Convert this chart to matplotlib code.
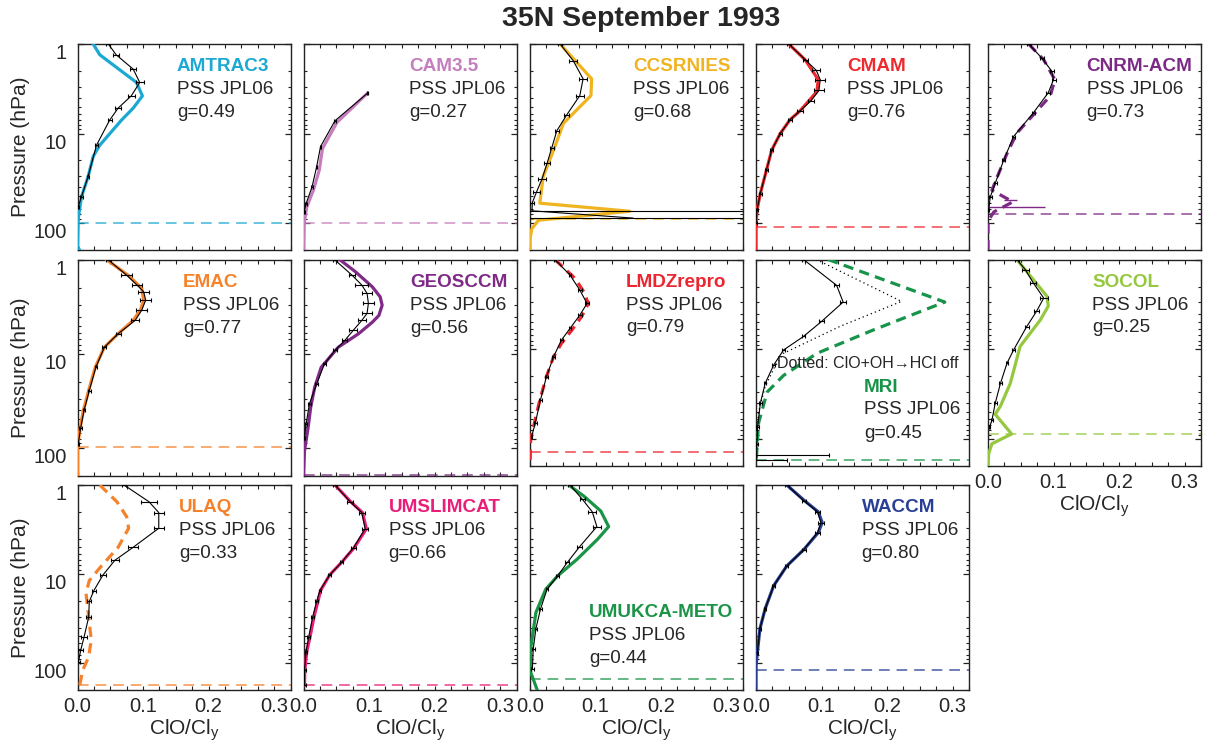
import numpy as np
import matplotlib.pyplot as plt
from matplotlib.ticker import FixedLocator, NullFormatter

plt.rcParams['font.family'] = ['Liberation Sans', 'DejaVu Sans']
plt.rcParams['mathtext.default'] = 'regular'

# ---- data (pressure in hPa, ClO/Cly ratio) ----
amtrac_obs_p = [1.0, 1.32, 1.91, 2.69, 3.8, 5.2, 7.1, 13.5, 30.6, 51, 66]
amtrac_obs_x = [0.047, 0.059, 0.085, 0.095, 0.082, 0.062, 0.049, 0.029, 0.016, 0.006, 0.001]
amtrac_obs_e = [0.003, 0.005, 0.005, 0.006, 0.005, 0.005, 0.003, 0.002, 0.002, 0.002, 0.001]
amtrac_mod_p = [1.0, 1.32, 2.69, 3.8, 5.2, 7.1, 13.5, 18, 30.6, 51, 90, 180, 200]
amtrac_mod_x = [0.024, 0.034, 0.090, 0.099, 0.085, 0.067, 0.034, 0.024, 0.016, 0.006, 0.001, 0.0, 0.003]

cam_obs_p = [3.55, 7.2, 14, 23.6, 39.5, 60.5, 75]
cam_obs_x = [0.0975, 0.048, 0.026, 0.020, 0.013, 0.004, 0.001]
cam_obs_e = [0.001, 0.001, 0.001, 0.001, 0.001, 0.001, 0.001]
cam_mod_p = [3.55, 7.5, 14.7, 25.7, 43, 66, 100, 200]
cam_mod_x = [0.0975, 0.051, 0.029, 0.024, 0.015, 0.005, 0.001, 0.0]

ccsr_obs_p = [1.0, 1.54, 2.45, 3.77, 6.2, 9.3, 14.6, 21.6, 32.6, 44.9, 59, 73, 88]
ccsr_obs_x = [0.046, 0.066, 0.081, 0.076, 0.056, 0.041, 0.033, 0.026, 0.018, 0.010, 0.0036, 0.003, 0.157]
ccsr_obs_e = [0.003, 0.006, 0.006, 0.006, 0.004, 0.003, 0.003, 0.004, 0.006, 0.006, 0.003, 0.5, 0.5]
ccsr_mod_p = [1.0, 2.45, 3.77, 7.7, 15.3, 30.5, 60, 73.8, 93, 115, 150, 200]
ccsr_mod_x = [0.046, 0.094, 0.093, 0.051, 0.036, 0.020, 0.015, 0.152, 0.013, 0.003, 0.0, 0.0]

cmam_obs_p = [1.0, 1.5, 1.97, 2.5, 3.3, 4.3, 5.6, 7.0, 10, 15.3, 25.6, 46.8, 72, 100]
cmam_obs_x = [0.050, 0.075, 0.092, 0.098, 0.096, 0.084, 0.067, 0.052, 0.037, 0.024, 0.016, 0.0066, 0.0015, 0.0]
cmam_obs_e = [0.003, 0.004, 0.006, 0.008, 0.008, 0.005, 0.004, 0.003, 0.002, 0.002, 0.002, 0.002, 0.001, 0.001]
cmam_mod_p = [1.0, 1.5, 2.5, 3.4, 5.6, 7.0, 10, 15.3, 25.6, 46.8, 72, 110, 200]
cmam_mod_x = [0.050, 0.075, 0.095, 0.093, 0.067, 0.052, 0.037, 0.024, 0.016, 0.0066, 0.0015, 0.0, 0.0]

cnrm_obs_p = [1.0, 1.43, 2.0, 2.5, 3.5, 5.9, 10.8, 19.8, 36, 51, 72]
cnrm_obs_x = [0.062, 0.082, 0.097, 0.100, 0.092, 0.069, 0.039, 0.024, 0.011, 0.0035, 0.001]
cnrm_obs_e = [0.003, 0.003, 0.003, 0.003, 0.003, 0.002, 0.002, 0.002, 0.002, 0.002, 0.001]
cnrm_mod_p = [1.0, 1.5, 2.5, 3.8, 6.2, 9.9, 16.7, 30.6, 43, 58, 75, 95, 200]
cnrm_mod_x = [0.062, 0.085, 0.102, 0.095, 0.069, 0.044, 0.029, 0.014, 0.006, 0.038, 0.009, 0.0, 0.0]
cnrm_bar_p = [55, 67]
cnrm_bar_lo = [0.024, 0.0]
cnrm_bar_hi = [0.044, 0.087]

emac_obs_p = [1.0, 1.45, 1.85, 2.18, 2.68, 3.43, 4.4, 6.1, 8.5, 13.9, 24.6, 40, 61, 91]
emac_obs_x = [0.047, 0.075, 0.091, 0.101, 0.104, 0.098, 0.088, 0.062, 0.041, 0.028, 0.018, 0.010, 0.005, 0.001]
emac_obs_e = [0.004, 0.008, 0.008, 0.008, 0.008, 0.008, 0.006, 0.004, 0.003, 0.002, 0.002, 0.002, 0.002, 0.001]
emac_mod_p = [1.0, 1.45, 2.0, 2.7, 3.4, 4.4, 6.1, 8.5, 13.9, 24.6, 40, 61, 100, 200]
emac_mod_x = [0.045, 0.077, 0.098, 0.101, 0.096, 0.085, 0.062, 0.041, 0.027, 0.017, 0.009, 0.004, 0.0, 0.0]

geos_obs_p = [1.0, 1.45, 1.85, 2.27, 2.9, 3.7, 4.4, 5.6, 7.2, 9.2, 12.8, 21, 34, 56, 78]
geos_obs_x = [0.048, 0.074, 0.089, 0.097, 0.099, 0.097, 0.089, 0.076, 0.063, 0.048, 0.032, 0.020, 0.009, 0.004, 0.0015]
geos_obs_e = [0.003, 0.004, 0.010, 0.008, 0.008, 0.008, 0.006, 0.006, 0.004, 0.003, 0.003, 0.002, 0.002, 0.002, 0.001]
geos_mod_p = [1.0, 1.33, 1.93, 2.47, 3.03, 3.9, 4.6, 6.1, 8.5, 13.9, 22.8, 37, 61, 108, 193]
geos_mod_x = [0.056, 0.079, 0.105, 0.117, 0.120, 0.115, 0.105, 0.084, 0.053, 0.027, 0.017, 0.011, 0.007, 0.0015, 0.0]

lmdz_obs_p = [1.0, 1.49, 2.19, 3.09, 4.17, 5.87, 7.9, 12.1, 20.3, 36.7, 66.7, 94]
lmdz_obs_x = [0.038, 0.061, 0.076, 0.087, 0.076, 0.061, 0.048, 0.036, 0.025, 0.016, 0.008, 0.0025]
lmdz_obs_e = [0.002, 0.002, 0.003, 0.003, 0.003, 0.002, 0.002, 0.002, 0.002, 0.002, 0.002, 0.001]
lmdz_mod_p = [1.0, 1.63, 2.29, 3.09, 4.3, 6.1, 8.6, 12.1, 20.3, 36.7, 75, 101, 200]
lmdz_mod_x = [0.038, 0.069, 0.082, 0.089, 0.079, 0.064, 0.048, 0.036, 0.025, 0.015, 0.005, 0.001, 0.0]

mri_obs_p = [1.0, 1.94, 2.98, 4.9, 7.2, 10.2, 15, 24, 40, 73, 113, 150, 170]
mri_obs_x = [0.0725, 0.123, 0.133, 0.100, 0.0725, 0.042, 0.027, 0.014, 0.0066, 0.0025, 0.0015, 0.001, 0.001]
mri_obs_e = [0.003, 0.004, 0.005, 0.004, 0.003, 0.002, 0.002, 0.002, 0.002, 0.002, 0.002, 0.11, 0.046]
mri_mod_p = [1.0, 2.98, 6.1, 11.1, 19.6, 30, 66, 187]
mri_mod_x = [0.11, 0.288, 0.179, 0.093, 0.042, 0.017, 0.004, 0.0]
mri_off_p = [1.0, 2.93, 5.57, 11.1, 16, 26, 50, 130]
mri_off_x = [0.092, 0.222, 0.128, 0.042, 0.028, 0.014, 0.004, 0.0]

socol_obs_p = [1.0, 1.3, 1.82, 2.69, 3.79, 5.6, 10.2, 14.3, 24, 40, 62, 73]
socol_obs_x = [0.044, 0.057, 0.069, 0.085, 0.074, 0.059, 0.039, 0.029, 0.019, 0.011, 0.006, 0.0025]
socol_obs_e = [0.003, 0.005, 0.005, 0.006, 0.004, 0.003, 0.002, 0.002, 0.002, 0.002, 0.002, 0.001]
socol_mod_p = [1.0, 2.57, 3.3, 4.7, 9.3, 24, 43, 53, 88, 113, 146, 200]
socol_mod_x = [0.044, 0.090, 0.092, 0.080, 0.049, 0.034, 0.019, 0.011, 0.036, 0.006, 0.001, 0.0]

ulaq_obs_p = [1.0, 1.54, 2.04, 3.06, 5.0, 7.0, 10.2, 15.3, 20.3, 30.5, 51, 71, 96]
ulaq_obs_x = [0.071, 0.109, 0.124, 0.124, 0.085, 0.057, 0.039, 0.025, 0.018, 0.017, 0.010, 0.005, 0.0015]
ulaq_obs_e = [0.003, 0.012, 0.008, 0.008, 0.008, 0.006, 0.004, 0.003, 0.003, 0.004, 0.004, 0.004, 0.002]
ulaq_mod_p = [1.0, 1.54, 2.27, 3.06, 5.0, 8.2, 11.8, 16.4, 30, 55, 85, 120, 190]
ulaq_mod_x = [0.034, 0.060, 0.075, 0.078, 0.062, 0.036, 0.018, 0.013, 0.017, 0.021, 0.017, 0.008, 0.0025]

umslim_obs_p = [1.0, 1.54, 2.04, 3.1, 5.1, 7.4, 10.2, 15.3, 20.3, 30.2, 50.5, 74, 120, 176]
umslim_obs_x = [0.048, 0.071, 0.089, 0.094, 0.076, 0.058, 0.040, 0.025, 0.020, 0.014, 0.008, 0.004, 0.0015, 0.0015]
umslim_obs_e = [0.003, 0.004, 0.005, 0.005, 0.004, 0.003, 0.002, 0.002, 0.002, 0.002, 0.002, 0.002, 0.002, 0.002]
umslim_mod_p = [1.0, 1.54, 2.04, 3.1, 5.1, 7.4, 10.2, 15.3, 20.3, 30.2, 50.5, 74, 120, 176]
umslim_mod_x = [0.048, 0.072, 0.090, 0.096, 0.077, 0.058, 0.040, 0.026, 0.022, 0.016, 0.010, 0.005, 0.002, 0.0015]

umukca_obs_p = [1.0, 1.45, 2.0, 2.93, 5.0, 7.4, 10.5, 14.8, 24.7, 41, 69, 116]
umukca_obs_x = [0.061, 0.080, 0.095, 0.102, 0.075, 0.057, 0.042, 0.026, 0.016, 0.009, 0.005, 0.0036]
umukca_obs_e = [0.003, 0.004, 0.006, 0.006, 0.004, 0.003, 0.002, 0.002, 0.002, 0.002, 0.002, 0.002]
umukca_mod_p = [1.0, 1.33, 1.96, 2.93, 4.07, 6.8, 10.5, 14.8, 27, 69, 126, 200]
umukca_mod_x = [0.059, 0.082, 0.108, 0.120, 0.103, 0.072, 0.042, 0.024, 0.009, 0.001, 0.001, 0.011]

waccm_obs_p = [1.0, 1.5, 2.0, 2.64, 3.42, 5.3, 8.1, 13.5, 24.5, 41, 77]
waccm_obs_x = [0.047, 0.073, 0.094, 0.099, 0.094, 0.073, 0.047, 0.027, 0.014, 0.006, 0.002]
waccm_obs_e = [0.003, 0.003, 0.004, 0.004, 0.004, 0.003, 0.002, 0.002, 0.002, 0.002, 0.001]
waccm_mod_p = [1.0, 1.5, 2.0, 2.64, 3.42, 5.3, 8.1, 13.5, 24.5, 41, 77, 108, 200]
waccm_mod_x = [0.047, 0.074, 0.095, 0.101, 0.095, 0.073, 0.047, 0.027, 0.014, 0.006, 0.002, 0.0, 0.0]

model_names = ['AMTRAC3', 'CAM3.5', 'CCSRNIES', 'CMAM', 'CNRM-ACM',
               'EMAC', 'GEOSCCM', 'LMDZrepro', 'MRI', 'SOCOL',
               'ULAQ', 'UMSLIMCAT', 'UMUKCA-METO', 'WACCM']
g_scores = ['0.49', '0.27', '0.68', '0.76', '0.73',
            '0.77', '0.56', '0.79', '0.45', '0.25',
            '0.33', '0.66', '0.44', '0.80']
trop_p = [100, 100, 89, 111, 80, 98, 193, 139, 170, 88, 176, 176, 150, 120]
colors = ['#1ba8d2', '#c57dbd', '#f0b420', '#ee2a2e', '#7d2a87',
          '#f6822a', '#7e2a86', '#eb2630', '#17944a', '#95c83f',
          '#f5812a', '#ea1d78', '#1a9446', '#283f95']
dashed_model = ['CNRM-ACM', 'LMDZrepro', 'MRI', 'ULAQ']

obs = [(amtrac_obs_p, amtrac_obs_x, amtrac_obs_e), (cam_obs_p, cam_obs_x, cam_obs_e),
       (ccsr_obs_p, ccsr_obs_x, ccsr_obs_e), (cmam_obs_p, cmam_obs_x, cmam_obs_e),
       (cnrm_obs_p, cnrm_obs_x, cnrm_obs_e), (emac_obs_p, emac_obs_x, emac_obs_e),
       (geos_obs_p, geos_obs_x, geos_obs_e), (lmdz_obs_p, lmdz_obs_x, lmdz_obs_e),
       (mri_obs_p, mri_obs_x, mri_obs_e), (socol_obs_p, socol_obs_x, socol_obs_e),
       (ulaq_obs_p, ulaq_obs_x, ulaq_obs_e), (umslim_obs_p, umslim_obs_x, umslim_obs_e),
       (umukca_obs_p, umukca_obs_x, umukca_obs_e), (waccm_obs_p, waccm_obs_x, waccm_obs_e)]
mods = [(amtrac_mod_p, amtrac_mod_x), (cam_mod_p, cam_mod_x), (ccsr_mod_p, ccsr_mod_x),
        (cmam_mod_p, cmam_mod_x), (cnrm_mod_p, cnrm_mod_x), (emac_mod_p, emac_mod_x),
        (geos_mod_p, geos_mod_x), (lmdz_mod_p, lmdz_mod_x), (mri_mod_p, mri_mod_x),
        (socol_mod_p, socol_mod_x), (ulaq_mod_p, ulaq_mod_x), (umslim_mod_p, umslim_mod_x),
        (umukca_mod_p, umukca_mod_x), (waccm_mod_p, waccm_mod_x)]

# ---- layout (pixels) ----
W, H = 1207, 744
fig = plt.figure(figsize=(W / 100, H / 100), dpi=100)

col_left = [77.5, 303.5, 530, 756, 988]
pw = 213
# (top, bottom) for every panel
boxes = [(44, 250)] * 5 + [(260, 476), (260, 476), (259.5, 466), (259.5, 466), (259.5, 466)] \
        + [(485, 690)] * 4
# where the label block sits: x fraction, top offset in px
label_x = [0.466, 0.496, 0.485, 0.427, 0.463,
           0.495, 0.50, 0.45, 0.507, 0.49,
           0.476, 0.40, 0.277, 0.496]
label_top = [22.5] * 8 + [127.5, 22.5, 22.5, 22.5, 127.5, 22.5]

txt_col = '#262626'

for i, name in enumerate(model_names):
    row, col = divmod(i, 5)
    top, bot = boxes[i]
    h = bot - top
    ax = fig.add_axes([col_left[col] / W, 1 - bot / H, pw / W, h / H])
    c = colors[i]

    mp, mx = mods[i]
    if name in dashed_model:
        ax.plot(mx, mp, color=c, lw=2.3, dashes=(3.2, 2.0), zorder=3)
    else:
        ax.plot(mx, mp, color=c, lw=2.3, zorder=3)

    if name == 'MRI':
        ax.plot(mri_off_x, mri_off_p, color='k', lw=0.9, ls=(0, (1, 2.5)), zorder=3)
    if name == 'CNRM-ACM':
        ax.hlines(cnrm_bar_p, cnrm_bar_lo, cnrm_bar_hi, color=c, lw=1.0, zorder=3)

    op, ox, oe = obs[i]
    ax.errorbar(ox, op, xerr=oe, color='k', lw=0.8, elinewidth=0.8,
                capsize=1.5, capthick=0.8, zorder=4)

    ax.axhline(trop_p[i], color=c, lw=1.1, dashes=(7, 4.5), alpha=0.85, zorder=2)

    ax.set_yscale('log')
    ax.set_ylim(200, 1)
    ax.set_xlim(0, 0.325)

    ax.yaxis.set_major_locator(FixedLocator([1, 10, 100]))
    ax.yaxis.set_minor_locator(FixedLocator([2, 3, 4, 5, 6, 7, 8, 9, 20, 30, 40, 50, 60, 70, 80, 90, 200]))
    ax.yaxis.set_minor_formatter(NullFormatter())
    ax.xaxis.set_major_locator(FixedLocator([0, 0.1, 0.2, 0.3]))
    ax.xaxis.set_minor_locator(FixedLocator([0.025, 0.05, 0.075, 0.125, 0.15, 0.175,
                                             0.225, 0.25, 0.275, 0.325]))

    ax.tick_params(which='both', direction='in', top=True, right=True, color='#222222')
    ax.tick_params(axis='y', which='major', length=4, width=0.9, pad=7.5)
    ax.tick_params(axis='y', which='minor', length=2.5, width=0.8)
    ax.tick_params(axis='x', which='both', length=3, width=0.8, pad=5)
    ax.tick_params(labelsize=14.5, labelcolor=txt_col)

    if col == 0:
        ax.set_yticks([1, 10, 100], labels=['1', '10', '100'], va='top', fontsize=14.5)
        fig.text(21 / W, 1 - (top + h / 2) / H, 'Pressure (hPa)', rotation=90,
                 ha='center', va='center', fontsize=15, color=txt_col)
    else:
        ax.set_yticklabels([])

    if row == 2 or name == 'SOCOL':
        ax.set_xticks([0, 0.1, 0.2, 0.3], labels=['0.0', '0.1', '0.2', '0.3'], fontsize=14.5)
        ax.text(0.5, -40 / h, r'ClO/Cl$_{y}$', transform=ax.transAxes, ha='center',
                va='center', fontsize=15, color=txt_col)
    else:
        ax.set_xticklabels([])

    for s in ax.spines.values():
        s.set_linewidth(1.0)
        s.set_color('#222222')

    lx = label_x[i]
    ly = 1 - label_top[i] / h
    ax.text(lx, ly, name, transform=ax.transAxes, fontsize=13.6, fontweight='bold',
            color=c, va='center', ha='left')
    ax.text(lx, ly - 23 / h, 'PSS JPL06', transform=ax.transAxes, fontsize=13.6,
            color=txt_col, va='center', ha='left')
    ax.text(lx, ly - 46 / h, 'g=' + g_scores[i], transform=ax.transAxes, fontsize=13.6,
            color=txt_col, va='center', ha='left')

    if name == 'MRI':
        ax.text((777 - 756) / pw, 1 - (363 - top) / h, 'Dotted: ClO+OH\u2192HCl off',
                transform=ax.transAxes, fontsize=11.5, color=txt_col, va='center', ha='left')

fig.text(641 / W, 1 - 19 / H, '35N September 1993', ha='center', va='center',
         fontsize=20.5, fontweight='bold', color=txt_col)

fig.savefig('out.png', dpi=100)
